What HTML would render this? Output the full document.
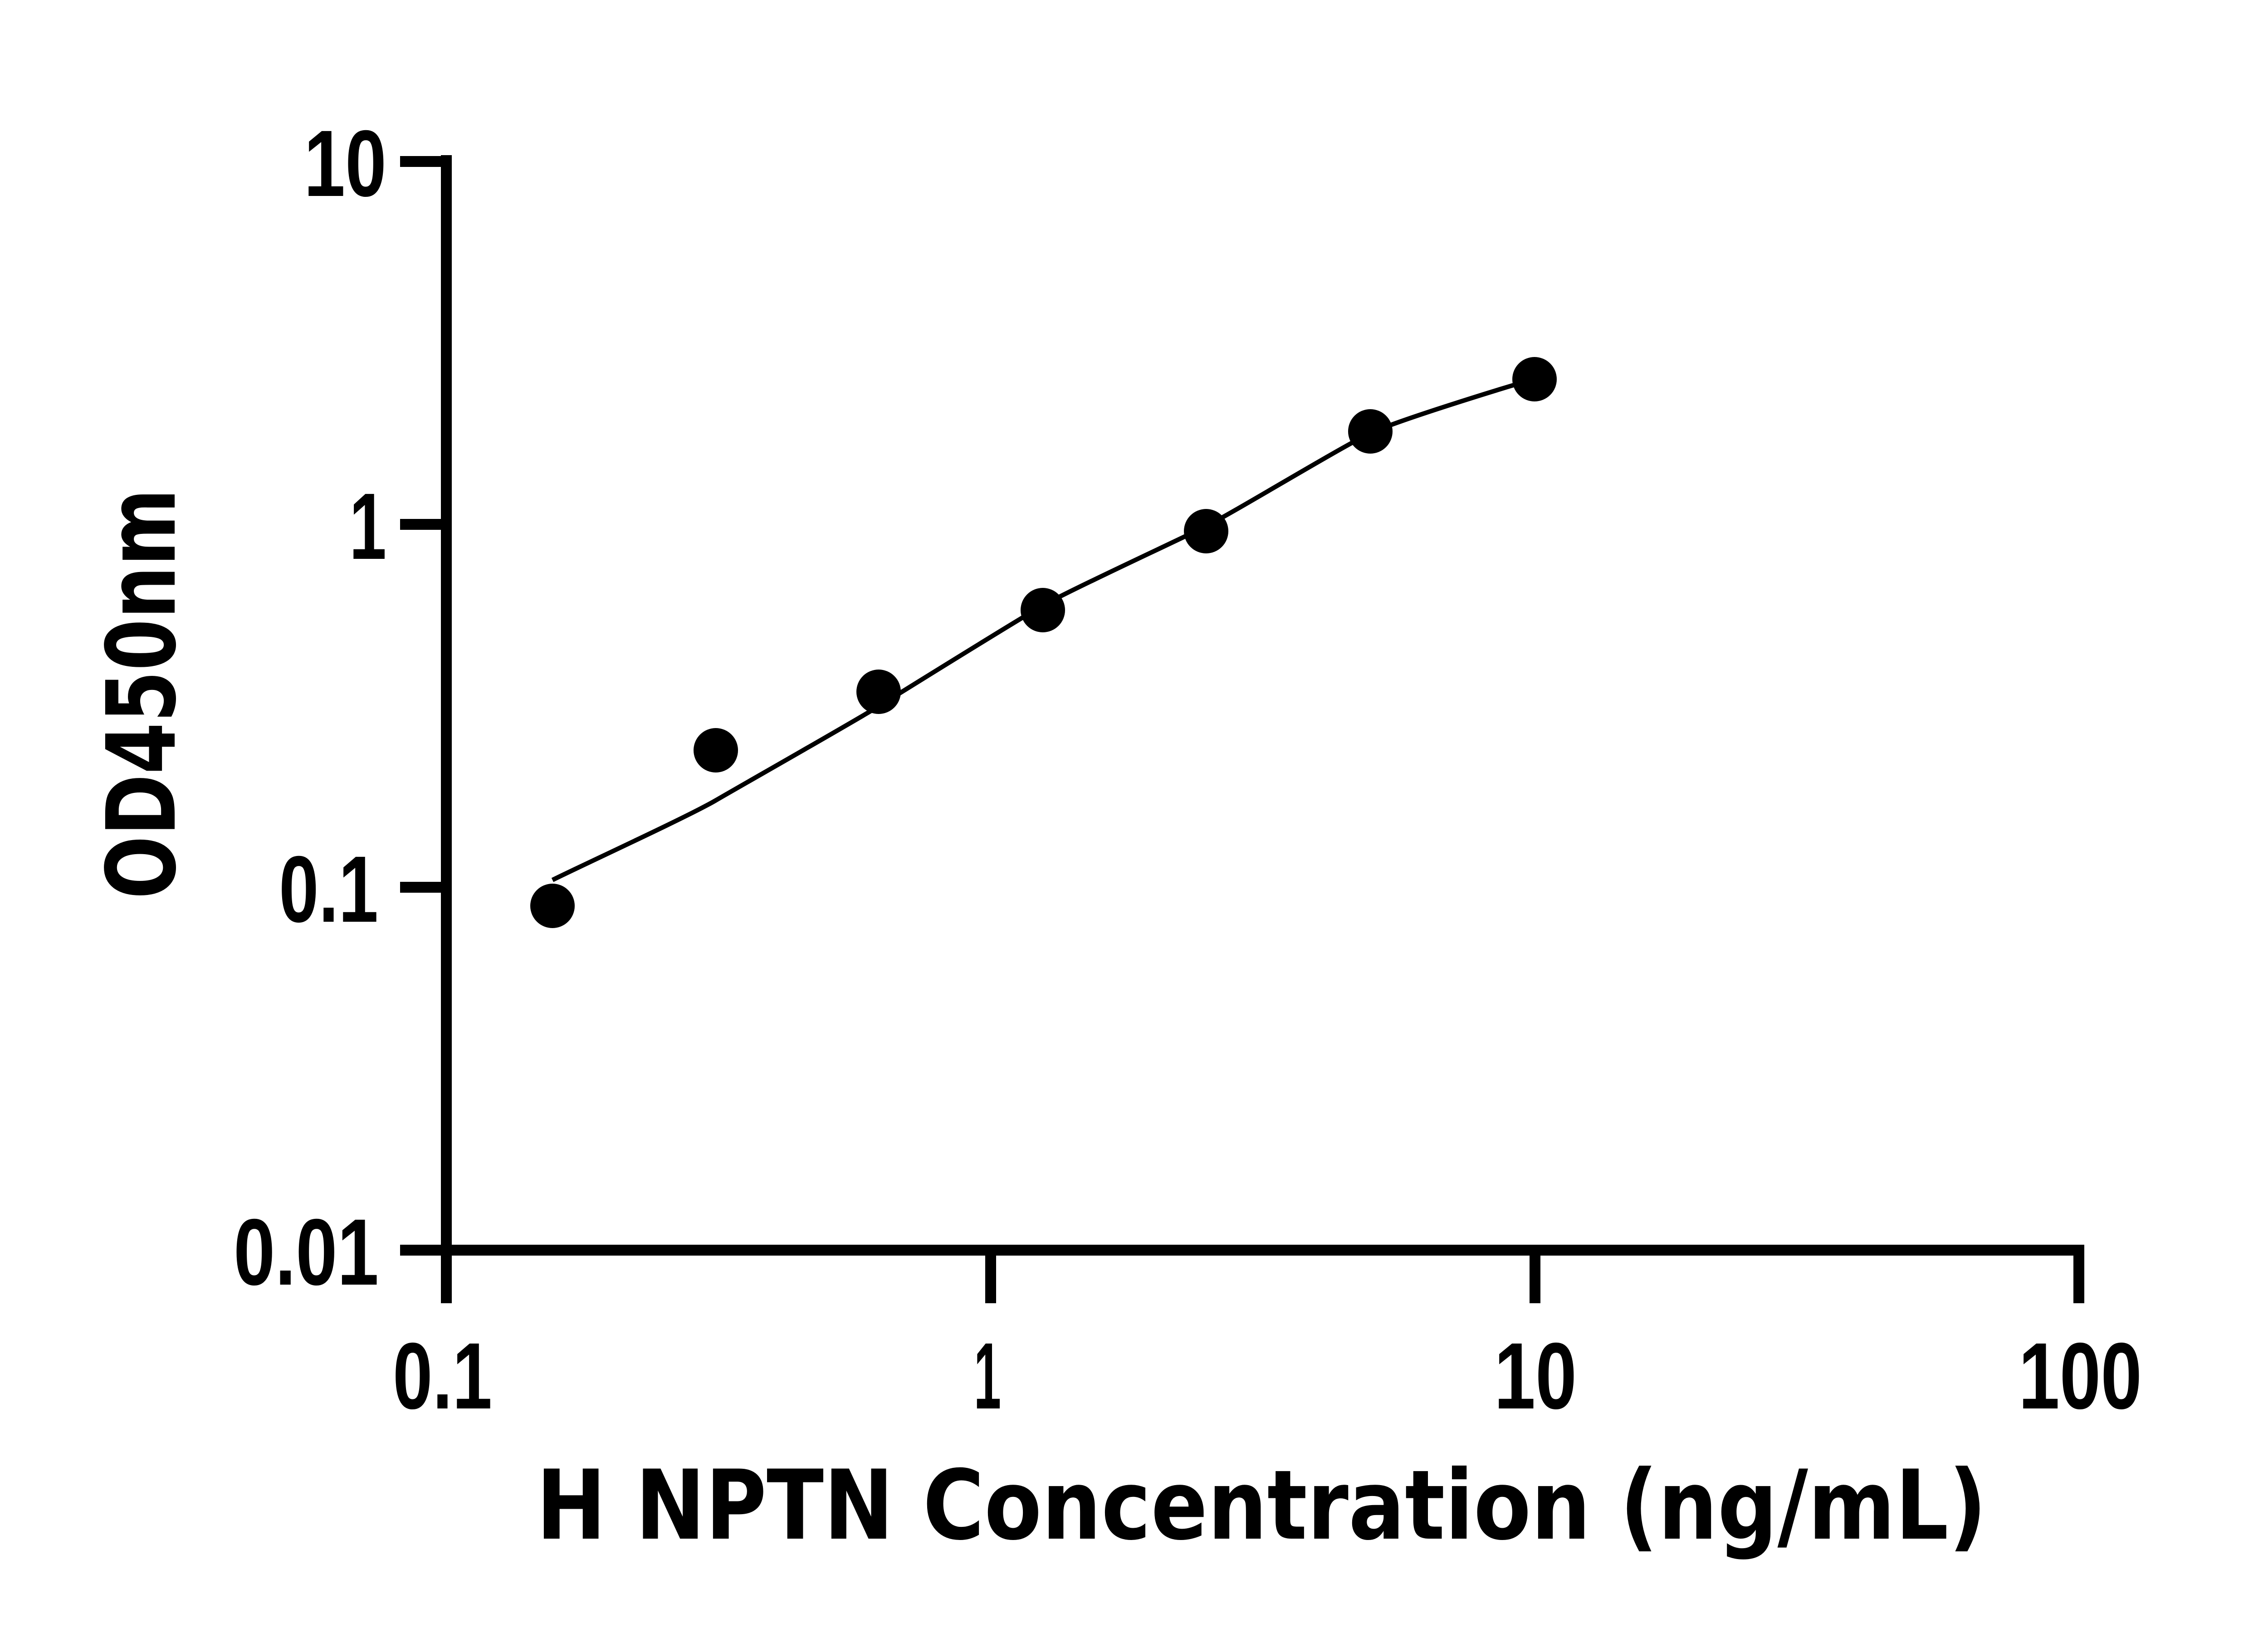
<!DOCTYPE html>
<html><head><meta charset="utf-8"><style>html,body{margin:0;padding:0;background:#fff}svg{display:block}
.t{font-family:"Liberation Sans",Arial,Helvetica,sans-serif;font-weight:bold;font-size:208px}
.ttl{font-family:"DejaVu Sans","Liberation Sans",sans-serif;font-weight:bold}
</style></head>
<body>
<svg width="5136" height="3600" viewBox="0 0 5136 3600" xmlns="http://www.w3.org/2000/svg">
<rect width="5136" height="3600" fill="#fff"/>
<g stroke="#000" stroke-width="24" fill="none" stroke-linecap="butt">
<line x1="984" y1="342" x2="984" y2="2770"/>
<line x1="972" y1="2756" x2="4595" y2="2756"/>
<line x1="882" y1="356" x2="996" y2="356"/>
<line x1="882" y1="1156" x2="984" y2="1156"/>
<line x1="882" y1="1956" x2="984" y2="1956"/>
<line x1="882" y1="2756" x2="984" y2="2756"/>
<line x1="984" y1="2756" x2="984" y2="2873"/>
<line x1="2184" y1="2756" x2="2184" y2="2873"/>
<line x1="3384" y1="2756" x2="3384" y2="2873"/>
<line x1="4583" y1="2744" x2="4583" y2="2873"/>
</g>
<path d="M1218,1940 C1278,1910 1517,1800 1577,1765 C1637,1730 1877,1594 1937,1557 C1997,1520 2239,1369 2299,1335 C2359,1301 2599,1190 2659,1160 C2719,1130 2961,983 3021,955 C3081,927 3300,860 3340,848" stroke="#000" stroke-width="10" fill="none"/>
<g fill="#000">
<circle cx="1218" cy="1997" r="49"/>
<circle cx="1578" cy="1654" r="49"/>
<circle cx="1937" cy="1525" r="49"/>
<circle cx="2299" cy="1345" r="49"/>
<circle cx="2659" cy="1171" r="49"/>
<circle cx="3021" cy="951" r="49"/>
<circle cx="3383" cy="836" r="49"/>
</g>
<g class="t" fill="#000">
<text x="670" y="432" textLength="182" lengthAdjust="spacingAndGlyphs">10</text>
<text x="770" y="1232" textLength="82" lengthAdjust="spacingAndGlyphs">1</text>
<text x="615" y="2032" textLength="219" lengthAdjust="spacingAndGlyphs">0.1</text>
<text x="515" y="2832" textLength="320" lengthAdjust="spacingAndGlyphs">0.01</text>
<text x="866" y="3105" textLength="219" lengthAdjust="spacingAndGlyphs">0.1</text>
<text x="2147" y="3105" textLength="60" lengthAdjust="spacingAndGlyphs">1</text>
<text x="3294" y="3105" textLength="182" lengthAdjust="spacingAndGlyphs">10</text>
<text x="4450" y="3105" textLength="272" lengthAdjust="spacingAndGlyphs">100</text>
</g>
<text class="ttl" x="1182" y="3392" font-size="212" textLength="3198" lengthAdjust="spacingAndGlyphs" fill="#000">H NPTN Concentration (ng/mL)</text>
<text class="ttl" transform="translate(385,1982) rotate(-90)" x="0" y="0" font-size="210" textLength="905" lengthAdjust="spacingAndGlyphs" fill="#000">OD450nm</text>
</svg>
</body></html>
